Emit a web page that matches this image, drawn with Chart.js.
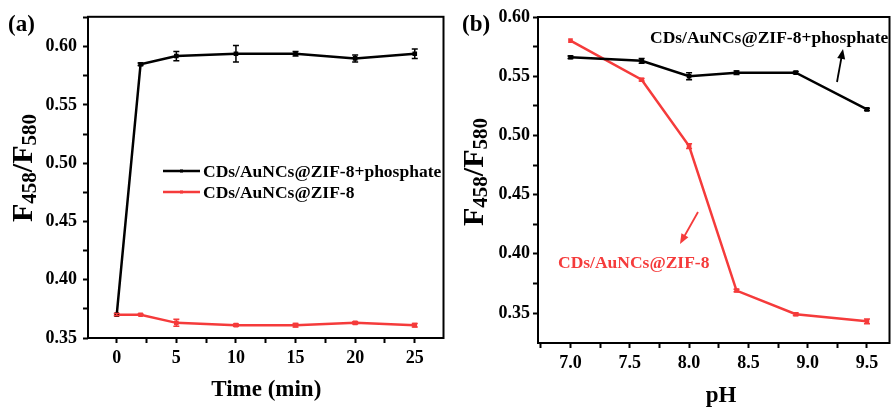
<!DOCTYPE html>
<html>
<head>
<meta charset="utf-8">
<script src="https://cdn.jsdelivr.net/npm/chart.js@4"></script>
<style>
  html, body { margin: 0; padding: 0; background: #fff; }
  #wrap { position: relative; width: 896px; height: 408px; overflow: hidden; }
  .pane { position: absolute; top: 0; height: 408px; }
</style>
</head>
<body>
<div id="wrap">
  <div class="pane" style="left:0;width:450px"><canvas id="chartA"></canvas></div>
  <div class="pane" style="left:450px;width:446px"><canvas id="chartB"></canvas></div>
</div>
<script>
// panel (a): ratio vs time
const timeMin  = [0, 2, 5, 10, 15, 20, 25];
const phosA    = [0.370, 0.585, 0.592, 0.594, 0.594, 0.590, 0.594];
const phosAErr = [0, 0.001, 0.004, 0.007, 0.002, 0.003, 0.004];
const zifA     = [0.370, 0.370, 0.363, 0.361, 0.361, 0.363, 0.361];
const zifAErr  = [0.001, 0.0005, 0.003, 0.001, 0.0015, 0.001, 0.0015];

// panel (b): ratio vs pH
const pH       = [7.0, 7.6, 8.0, 8.4, 8.9, 9.5];
const phosB    = [0.566, 0.563, 0.550, 0.553, 0.553, 0.522];
const phosBErr = [0.001, 0.002, 0.003, 0.0015, 0.001, 0.001];
const zifB     = [0.580, 0.547, 0.491, 0.369, 0.349, 0.343];
const zifBErr  = [0, 0.001, 0.002, 0.001, 0.001, 0.002];

// tick positions (major ones get labels)
const timeTicks   = [0, 2.5, 5, 7.5, 10, 12.5, 15, 17.5, 20, 22.5, 25];
const timeLabels  = [0, 5, 10, 15, 20, 25];
const ratioTicksA = [0.35, 0.375, 0.40, 0.425, 0.45, 0.475, 0.50, 0.525, 0.55, 0.575, 0.60, 0.625];
const ratioTicksB = [0.35, 0.375, 0.40, 0.425, 0.45, 0.475, 0.50, 0.525, 0.55, 0.575, 0.60];
const ratioLabels = [0.35, 0.40, 0.45, 0.50, 0.55, 0.60];
const pHTicks     = [6.75, 7.0, 7.25, 7.5, 7.75, 8.0, 8.25, 8.5, 8.75, 9.0, 9.25, 9.5];
const pHLabels    = [7.0, 7.5, 8.0, 8.5, 9.0, 9.5];

const seriesNames = ['CDs/AuNCs@ZIF-8+phosphate', 'CDs/AuNCs@ZIF-8'];
const BLACK = '#000000';
const RED = '#f53b3b';
const SERIF = "'Liberation Serif', 'Times New Roman', serif";

function pts(xs, ys) {
  return xs.map((x, i) => ({ x: x, y: ys[i] }));
}

function has(list, v) {
  return list.some(t => Math.abs(t - v) < 1e-6);
}

function dataset(xs, ys, errs, color) {
  return {
    data: pts(xs, ys),
    errs: errs,
    showLine: true,
    borderColor: color,
    backgroundColor: color,
    borderWidth: 2.5,
    pointRadius: 1.5,
    pointStyle: 'rect',
    tension: 0,
  };
}

// error bars + frame
const decorPlugin = {
  id: 'decor',
  afterDatasetsDraw(chart) {
    const ctx = chart.ctx;
    const xs = chart.scales.x, ys = chart.scales.y;
    ctx.save();
    chart.data.datasets.forEach(ds => {
      ctx.strokeStyle = ds.borderColor;
      ctx.lineWidth = 1.5;
      ds.data.forEach((p, i) => {
        const e = ds.errs[i];
        if (!e) return;
        const px = xs.getPixelForValue(p.x);
        const top = ys.getPixelForValue(p.y + e);
        const bot = ys.getPixelForValue(p.y - e);
        ctx.beginPath();
        ctx.moveTo(px, top); ctx.lineTo(px, bot);
        ctx.moveTo(px - 3, top); ctx.lineTo(px + 3, top);
        ctx.moveTo(px - 3, bot); ctx.lineTo(px + 3, bot);
        ctx.stroke();
      });
    });
    const a = chart.chartArea;
    ctx.strokeStyle = BLACK;
    ctx.lineWidth = 2;
    ctx.strokeRect(a.left, a.top, a.right - a.left, a.bottom - a.top);
    ctx.restore();
  }
};

// text drawn by hand: panel letter, axis titles, legend, callouts
function yTitle(ctx, x, cy) {
  const big = 'bold 30px ' + SERIF, small = 'bold 21px ' + SERIF;
  const parts = [['F', big, 0], ['458', small, 4], ['/F', big, 0], ['580', small, 4]];
  ctx.save();
  let total = 0;
  parts.forEach(p => { ctx.font = p[1]; total += ctx.measureText(p[0]).width; });
  ctx.translate(x, cy);
  ctx.rotate(-Math.PI / 2);
  ctx.textBaseline = 'alphabetic';
  ctx.textAlign = 'left';
  ctx.fillStyle = BLACK;
  let cx = -total / 2;
  parts.forEach(p => {
    ctx.font = p[1];
    ctx.fillText(p[0], cx, p[2]);
    cx += ctx.measureText(p[0]).width;
  });
  ctx.restore();
}

function arrow(ctx, x1, y1, x2, y2, color) {
  const ang = Math.atan2(y2 - y1, x2 - x1);
  const len = 10, w = 4;
  ctx.save();
  ctx.strokeStyle = color;
  ctx.fillStyle = color;
  ctx.lineWidth = 1.8;
  ctx.beginPath();
  ctx.moveTo(x1, y1);
  ctx.lineTo(x2 - Math.cos(ang) * len * 0.8, y2 - Math.sin(ang) * len * 0.8);
  ctx.stroke();
  ctx.beginPath();
  ctx.moveTo(x2, y2);
  ctx.lineTo(x2 - Math.cos(ang) * len + Math.sin(ang) * w, y2 - Math.sin(ang) * len - Math.cos(ang) * w);
  ctx.lineTo(x2 - Math.cos(ang) * len - Math.sin(ang) * w, y2 - Math.sin(ang) * len + Math.cos(ang) * w);
  ctx.closePath();
  ctx.fill();
  ctx.restore();
}

function textPlugin(panel) {
  return {
    id: 'texts' + panel,
    afterDraw(chart) {
      const ctx = chart.ctx;
      const a = chart.chartArea;
      ctx.save();
      ctx.fillStyle = BLACK;
      ctx.textBaseline = 'alphabetic';
      ctx.font = 'bold 23px ' + SERIF;
      ctx.textAlign = 'left';
      if (panel === 'a') {
        ctx.fillText('(a)', 8, 31);
        yTitle(ctx, 32, 168);
        ctx.font = 'bold 23px ' + SERIF;
        ctx.textAlign = 'center';
        ctx.fillText('Time (min)', (a.left + a.right) / 2 + 0.5, 396);
        // legend
        const rows = [[BLACK, 171, 177], [RED, 192, 198]];
        rows.forEach((r, i) => {
          ctx.strokeStyle = r[0];
          ctx.lineWidth = 2.5;
          ctx.beginPath();
          ctx.moveTo(163, r[1]); ctx.lineTo(200, r[1]);
          ctx.stroke();
          ctx.fillStyle = r[0];
          ctx.fillRect(180, r[1] - 1.5, 3, 3);
          ctx.fillStyle = BLACK;
          ctx.font = 'bold 17.5px ' + SERIF;
          ctx.textAlign = 'left';
          ctx.fillText(seriesNames[i], 203, r[2]);
        });
      } else {
        ctx.fillText('(b)', 12, 31);
        yTitle(ctx, 33, 172);
        ctx.font = 'bold 23px ' + SERIF;
        ctx.textAlign = 'center';
        ctx.fillText('pH', 271, 402);
        ctx.font = 'bold 17.5px ' + SERIF;
        ctx.textAlign = 'left';
        ctx.fillText(seriesNames[0], 200, 43);
        ctx.fillStyle = RED;
        ctx.fillText(seriesNames[1], 108, 268);
        arrow(ctx, 387, 82, 393, 49, BLACK);
        arrow(ctx, 248, 212, 230, 244, RED);
      }
      ctx.restore();
    }
  };
}

function axisX(min, max, ticks, labels, pad) {
  return {
    type: 'linear',
    min: min, max: max,
    afterBuildTicks: s => { s.ticks = ticks.map(v => ({ value: v })); },
    afterFit: s => { s.height = pad; },
    grid: { drawOnChartArea: false, drawTicks: true, tickLength: 5, tickWidth: 2, tickColor: BLACK },
    border: { display: false },
    ticks: {
      autoSkip: false, maxRotation: 0, padding: 5, color: BLACK,
      font: { family: SERIF, weight: 'bold', size: 18 },
      callback: v => has(labels, v) ? v.toFixed(labels === timeLabels ? 0 : 1) : '',
    },
  };
}

function axisY(min, max, ticks, labels, pad) {
  return {
    type: 'linear',
    min: min, max: max,
    afterBuildTicks: s => { s.ticks = ticks.map(v => ({ value: v })); },
    afterFit: s => { s.width = 88; },
    grid: { drawOnChartArea: false, drawTicks: true, tickLength: 5, tickWidth: 2, tickColor: BLACK },
    border: { display: false },
    ticks: {
      autoSkip: false, padding: pad, color: BLACK,
      font: { family: SERIF, weight: 'bold', size: 18 },
      callback: v => has(labels, v) ? v.toFixed(2) : '',
    },
  };
}

function baseOptions(padTop, padRight, x, y) {
  return {
    responsive: true,
    maintainAspectRatio: false,
    animation: false,
    layout: { padding: { top: padTop, right: padRight, left: 0, bottom: 0 } },
    plugins: { legend: { display: false }, tooltip: { enabled: false } },
    scales: { x: x, y: y },
  };
}

new Chart(document.getElementById('chartA'), {
  type: 'scatter',
  data: {
    datasets: [
      dataset(timeMin, phosA, phosAErr, BLACK),
      dataset(timeMin, zifA, zifAErr, RED),
    ],
  },
  options: baseOptions(16, 3,
    axisX(-2.41, 27.41, timeTicks, timeLabels, 70),
    axisY(0.35, 0.6257, ratioTicksA, ratioLabels, 6)),
  plugins: [decorPlugin, textPlugin('a')],
});

new Chart(document.getElementById('chartB'), {
  type: 'scatter',
  data: {
    datasets: [
      dataset(pH, phosB, phosBErr, BLACK),
      dataset(pH, zifB, zifBErr, RED),
    ],
  },
  options: baseOptions(17, 0,
    axisX(6.726, 9.69, pHTicks, pHLabels, 65),
    axisY(0.3247, 0.60, ratioTicksB, ratioLabels, 3)),
  plugins: [decorPlugin, textPlugin('b')],
});
</script>
</body>
</html>
